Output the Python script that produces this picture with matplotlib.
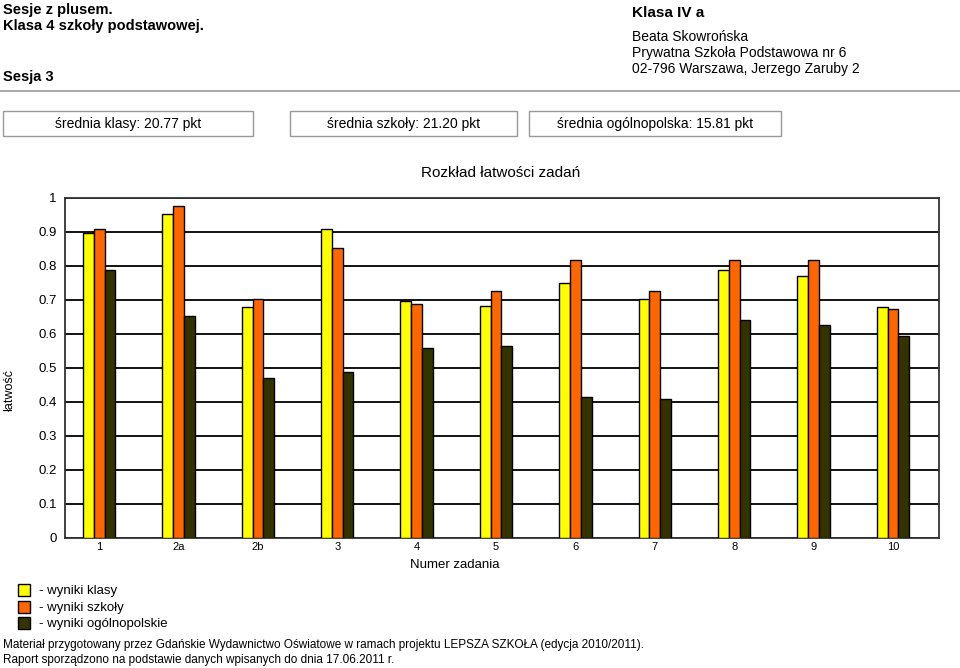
import matplotlib
matplotlib.use("Agg")
import matplotlib.pyplot as plt
from matplotlib.patches import Rectangle
import numpy as np

plt.rcParams['font.family'] = ['Liberation Sans', 'DejaVu Sans']

categories = ["1", "2a", "2b", "3", "4", "5", "6", "7", "8", "9", "10"]
wyniki_klasy = [0.896, 0.953, 0.680, 0.908, 0.696, 0.681, 0.749, 0.704, 0.787, 0.772, 0.680]
wyniki_szkoly = [0.908, 0.976, 0.704, 0.852, 0.689, 0.727, 0.817, 0.727, 0.817, 0.817, 0.675]
wyniki_ogolnopolskie = [0.788, 0.654, 0.470, 0.487, 0.558, 0.565, 0.416, 0.409, 0.640, 0.626, 0.593]
y_ticks = [0, 0.1, 0.2, 0.3, 0.4, 0.5, 0.6, 0.7, 0.8, 0.9, 1]
y_tick_labels = ["0", "0.1", "0.2", "0.3", "0.4", "0.5", "0.6", "0.7", "0.8", "0.9", "1"]

colors = ["#ffff00", "#ff6600", "#333300"]
series = [wyniki_klasy, wyniki_szkoly, wyniki_ogolnopolskie]
legend_labels = ["- wyniki klasy", "- wyniki szkoły", "- wyniki ogólnopolskie"]

W, H = 960, 668
fig = plt.figure(figsize=(W / 100, H / 100), dpi=100)

def fx(px):
    return px / W

def fy(py):
    return 1 - py / H

# Header
fig.text(fx(3), fy(10), "Sesje z plusem.", fontsize=10.5, fontweight='bold', va='center', ha='left')
fig.text(fx(3), fy(26), "Klasa 4 szkoły podstawowej.", fontsize=10.5, fontweight='bold', va='center', ha='left')
fig.text(fx(3), fy(77), "Sesja 3", fontsize=10.5, fontweight='bold', va='center', ha='left')
fig.text(fx(632), fy(13), "Klasa IV a", fontsize=11, fontweight='bold', va='center', ha='left')
fig.text(fx(632), fy(37), "Beata Skowrońska", fontsize=10, va='center', ha='left')
fig.text(fx(632), fy(53), "Prywatna Szkoła Podstawowa nr 6", fontsize=10, va='center', ha='left')
fig.text(fx(632), fy(69), "02-796 Warszawa, Jerzego Zaruby 2", fontsize=10, va='center', ha='left')

fig.add_artist(plt.Line2D([0, 1], [fy(91), fy(91)], color='#999999', lw=1.2, transform=fig.transFigure))

boxes = [(3, 253, "średnia klasy: 20.77 pkt"),
         (290, 517, "średnia szkoły: 21.20 pkt"),
         (529, 781, "średnia ogólnopolska: 15.81 pkt")]
for x0, x1, t in boxes:
    fig.add_artist(Rectangle((fx(x0), fy(136)), fx(x1 - x0), (136 - 111) / H,
                             transform=fig.transFigure, fill=False, edgecolor='#999999', lw=1))
    fig.text(fx((x0 + x1) / 2), fy(124), t, fontsize=10, va='center', ha='center')

# Axes
ax = fig.add_axes([fx(65), fy(538), fx(939 - 65), (538 - 198) / H])
x = np.arange(len(categories))
bw = 0.136
for i, (vals, c) in enumerate(zip(series, colors)):
    ax.bar(x + (i - 1) * bw, vals, width=bw, color=c, edgecolor='black', linewidth=1, zorder=3)

ax.set_xlim(-0.43, len(categories) - 0.42)
ax.set_ylim(0, 1)
ax.set_yticks(y_ticks)
ax.set_yticklabels(y_tick_labels, fontsize=9.5)
ax.set_xticks(x)
ax.set_xticklabels(categories, fontsize=8)
ax.tick_params(axis='y', length=0, pad=6)
ax.tick_params(axis='x', length=0, pad=3)
ax.yaxis.grid(True, color='black', linewidth=1.3, zorder=0)
ax.set_axisbelow(True)
for s in ax.spines.values():
    s.set_color('#333333')
    s.set_linewidth(1.3)

fig.text(fx(501), fy(173), "Rozkład łatwości zadań", fontsize=11, va='center', ha='center')
fig.text(fx(10), fy(390), "łatwość", fontsize=9, va='center', ha='center', rotation=90)
fig.text(fx(455), fy(565), "Numer zadania", fontsize=9.5, va='center', ha='center')

# Legend
leg_y = [590, 607, 623]
for yy, c, lab in zip(leg_y, colors, legend_labels):
    fig.add_artist(Rectangle((fx(18), fy(yy + 6)), fx(12), 12 / H, transform=fig.transFigure,
                             facecolor=c, edgecolor='black', lw=1))
    fig.text(fx(39), fy(yy + 1), lab, fontsize=9.5, va='center', ha='left')

fig.text(fx(3), fy(645), "Materiał przygotowany przez Gdańskie Wydawnictwo Oświatowe w ramach projektu LEPSZA SZKOŁA (edycja 2010/2011).",
         fontsize=8.5, va='center', ha='left')
fig.text(fx(3), fy(660), "Raport sporządzono na podstawie danych wpisanych do dnia 17.06.2011 r.",
         fontsize=8.5, va='center', ha='left')

fig.savefig("out.png", dpi=100)
